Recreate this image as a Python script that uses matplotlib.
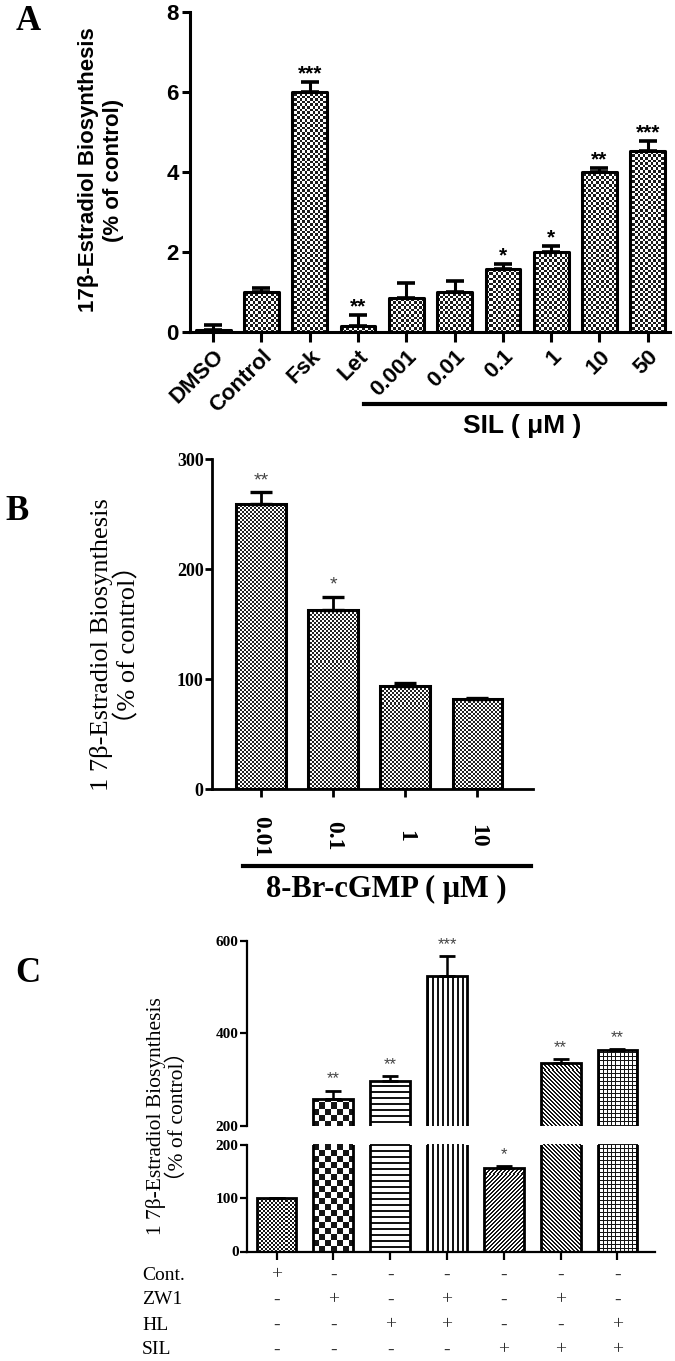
import numpy as np
import matplotlib
matplotlib.use('Agg')
import matplotlib.pyplot as plt
from matplotlib.colors import ListedColormap
from matplotlib.lines import Line2D
from matplotlib import transforms

plt.rcParams['font.family'] = ['Liberation Sans', 'DejaVu Sans']

# panel A data
a_labels = ['DMSO', 'Control', 'Fsk', 'Let', '0.001', '0.01', '0.1', '1', '10', '50']
a_vals = [0.05, 1.0, 6.0, 0.16, 0.85, 1.0, 1.57, 2.0, 4.0, 4.53]
a_err = [0.12, 0.1, 0.25, 0.26, 0.37, 0.27, 0.13, 0.15, 0.1, 0.25]
a_stars = ['', '', '***', '**', '', '', '*', '*', '**', '***']

# panel B data
b_labels = ['0.01', '0.1', '1', '10']
b_vals = [259, 163, 94, 81.5]
b_err = [11, 12, 2, 1.5]
b_stars = ['**', '*', '', '']

# panel C data
c_vals = [100, 257, 297, 524, 156, 335, 363]
c_err = [1, 19, 10, 43, 4, 9, 3]
c_stars = ['', '**', '**', '***', '*', '**', '**']
c_rows = ['Cont.', 'ZW1', 'HL', 'SIL']
c_cont = ['+', '-', '-', '-', '-', '-', '-']
c_zw1 = ['-', '+', '-', '+', '-', '+', '-']
c_hl = ['-', '-', '+', '+', '-', '-', '+']
c_sil = ['-', '-', '-', '-', '+', '+', '+']
# fill pattern per bar: kind, period, thickness
c_fill = [('checker', 2, 1), ('checker', 6, 1), ('hline', 6, 2), ('vline', 5, 2),
          ('diag', 4, 2), ('back', 4, 2), ('grid', 4, 1)]

W, H = 675, 1361
SERIF = ['Liberation Serif', 'Noto Sans CJK SC', 'DejaVu Serif']


def box(l, t, r, b):
    return [l / W, 1 - b / H, (r - l) / W, (b - t) / H]


def fill(ax, bar, kind, p, t=1, fg='black'):
    pos = ax.get_position()
    w = int(round(pos.width * W))
    h = int(round(pos.height * H))
    yy, xx = np.mgrid[0:h, 0:w]
    if kind == 'checker':
        arr = (np.floor(yy / p) + np.floor(xx / p)) % 2
    elif kind == 'hline':
        arr = (yy % p) < t
    elif kind == 'vline':
        arr = (xx % p) < t
    elif kind == 'diag':
        arr = ((xx + yy) % p) < t
    elif kind == 'back':
        arr = ((xx - yy) % p) < t
    else:
        arr = ((xx % p) < t) | ((yy % p) < t)
    im = ax.imshow(arr.astype(float), cmap=ListedColormap(['white', fg]), vmin=0, vmax=1,
                   extent=(*ax.get_xlim(), *ax.get_ylim()), aspect='auto',
                   interpolation='nearest', zorder=2)
    im.set_clip_path(bar)


def clean(ax, lw):
    ax.spines['top'].set_visible(False)
    ax.spines['right'].set_visible(False)
    for s in ['left', 'bottom']:
        ax.spines[s].set_linewidth(lw)


fig = plt.figure(figsize=(6.75, 13.61), dpi=100)

# ---------------- A ----------------
axA = fig.add_axes(box(190, 12, 670, 332))
xa = np.arange(len(a_vals))
barsA = axA.bar(xa, a_vals, width=0.72, facecolor='none', edgecolor='black', linewidth=2.2, zorder=5)
for b in barsA:
    b.set_joinstyle('round')
axA.errorbar(xa, a_vals, yerr=[np.zeros(len(a_vals)), a_err], fmt='none', ecolor='black',
             elinewidth=2.2, capsize=6.5, capthick=2.6, zorder=6)
axA.set_xlim(-0.48, 9.46)
axA.set_ylim(0, 8)
for b in barsA:
    fill(axA, b, 'checker', 2.6, fg='#1a1a1a')
for i, s in enumerate(a_stars):
    if s:
        axA.annotate(s, (xa[i], a_vals[i] + a_err[i]), xytext=(0, -1), textcoords='offset points',
                     ha='center', va='bottom', fontsize=15, fontweight='bold')
clean(axA, 2.2)
axA.set_yticks([0, 2, 4, 6, 8])
axA.tick_params(axis='y', length=6, width=2.2, labelsize=16, pad=2)
axA.tick_params(axis='x', length=7, width=2.2, pad=3)
for lab in axA.get_yticklabels():
    lab.set_fontweight('bold')
axA.set_xticks(xa)
axA.set_xticklabels(a_labels, rotation=45, ha='right', rotation_mode='anchor',
                    fontsize=16, fontweight='bold')
fig.text(101 / W, 1 - 170 / H, '17β-Estradiol Biosynthesis\n(% of control)', rotation=90,
         ha='center', va='center', fontsize=16, fontweight='bold', linespacing=1.2)
fig.text(28 / W, 1 - 22 / H, 'A', family=SERIF, fontsize=25, fontweight='bold', ha='center', va='center')
fig.add_artist(Line2D([364 / W, 665 / W], [1 - 404 / H] * 2, color='black', linewidth=3))
fig.text(522 / W, 1 - 426 / H, 'SIL ( μM )', fontsize=19, fontweight='bold', ha='center', va='center')

# ---------------- B ----------------
axB = fig.add_axes(box(212, 459, 533, 789))
xb = np.arange(len(b_vals))
barsB = axB.bar(xb, b_vals, width=0.69, facecolor='none', edgecolor='black', linewidth=2.2, zorder=5)
axB.errorbar(xb, b_vals, yerr=[np.zeros(len(b_vals)), b_err], fmt='none', ecolor='black',
             elinewidth=2, capsize=8, capthick=2.4, zorder=6)
axB.set_xlim(-0.68, 3.77)
axB.set_ylim(0, 300)
for b in barsB:
    fill(axB, b, 'checker', 2, fg='#222222')
for i, s in enumerate(b_stars):
    if s:
        axB.annotate(s, (xb[i], b_vals[i] + b_err[i]), xytext=(0, 2), textcoords='offset points',
                     ha='center', va='bottom', fontsize=14, color='#444444')
clean(axB, 2)
axB.set_yticks([0, 100, 200, 300])
axB.tick_params(axis='y', length=5, width=2, labelsize=13, pad=1)
axB.tick_params(axis='x', length=6, width=2, pad=28)
for lab in axB.get_yticklabels():
    lab.set_family(SERIF)
    lab.set_fontweight('bold')
axB.set_xticks(xb)
axB.set_xticklabels(b_labels, rotation=-90, ha='center', va='center', family=SERIF,
                    fontsize=17, fontweight='bold')
fig.text(115 / W, 1 - 645 / H, '1 7β-Estradiol Biosynthesis\n（% of control）', rotation=90,
         ha='center', va='center', family=SERIF, fontsize=19, linespacing=1.1)
fig.text(17 / W, 1 - 511 / H, 'B', family=SERIF, fontsize=25, fontweight='bold', ha='center', va='center')
fig.add_artist(Line2D([243 / W, 531 / W], [1 - 866 / H] * 2, color='black', linewidth=3))
fig.text(386 / W, 1 - 889 / H, '8-Br-cGMP ( μM )', family=SERIF, fontsize=22, fontweight='bold',
         ha='center', va='center')

# ---------------- C ----------------
axU = fig.add_axes(box(247, 941, 655, 1125.7))
axL = fig.add_axes(box(247, 1145, 655, 1251.5))
xc = np.arange(len(c_vals))
for ax, lo, hi in [(axU, 200, 600), (axL, 0, 200)]:
    bars = ax.bar(xc, c_vals, width=0.70, facecolor='none', edgecolor='black', linewidth=2, zorder=5)
    ax.errorbar(xc, c_vals, yerr=[np.zeros(len(c_vals)), c_err], fmt='none', ecolor='black',
                elinewidth=1.8, capsize=6, capthick=2, zorder=6)
    ax.set_xlim(-0.52, 6.66)
    ax.set_ylim(lo, hi)
    for b, (kind, p, t) in zip(bars, c_fill):
        fill(ax, b, kind, p, t, fg='#151515')
    clean(ax, 1.6)
    ax.tick_params(axis='y', length=5, width=1.6, labelsize=11, pad=1)
    for i, s in enumerate(c_stars):
        top = c_vals[i] + c_err[i]
        if s and lo <= top < hi:
            ax.annotate(s, (xc[i], top), xytext=(0, 3), textcoords='offset points',
                        ha='center', va='bottom', fontsize=12, color='#444444')
axU.spines['bottom'].set_visible(False)
axU.set_xticks([])
axU.set_yticks([200, 400, 600])
axL.set_yticks([0, 100, 200])
axL.set_xticks(xc)
axL.set_xticklabels([])
axL.tick_params(axis='x', length=6, width=1.6)
for ax in [axU, axL]:
    for lab in ax.get_yticklabels():
        lab.set_family(SERIF)
        lab.set_fontweight('bold')

fig.text(167 / W, 1 - 1116 / H, '1 7β-Estradiol Biosynthesis\n（% of control）', rotation=90,
         ha='center', va='center', family=SERIF, fontsize=15.5, linespacing=1.1)
fig.text(28 / W, 1 - 974 / H, 'C', family=SERIF, fontsize=25, fontweight='bold', ha='center', va='center')

tr = transforms.blended_transform_factory(axL.transData, fig.transFigure)
row_y = [1275, 1300, 1325, 1350]
for name, signs, y in zip(c_rows, [c_cont, c_zw1, c_hl, c_sil], row_y):
    fig.text(142 / W, 1 - y / H, name, family=SERIF, fontsize=14, ha='left', va='center')
    for i, s in enumerate(signs):
        axL.text(xc[i], 1 - y / H, s, transform=tr, family=SERIF, fontsize=14,
                 ha='center', va='center', color='#333333')

fig.savefig('out.png', dpi=100)
